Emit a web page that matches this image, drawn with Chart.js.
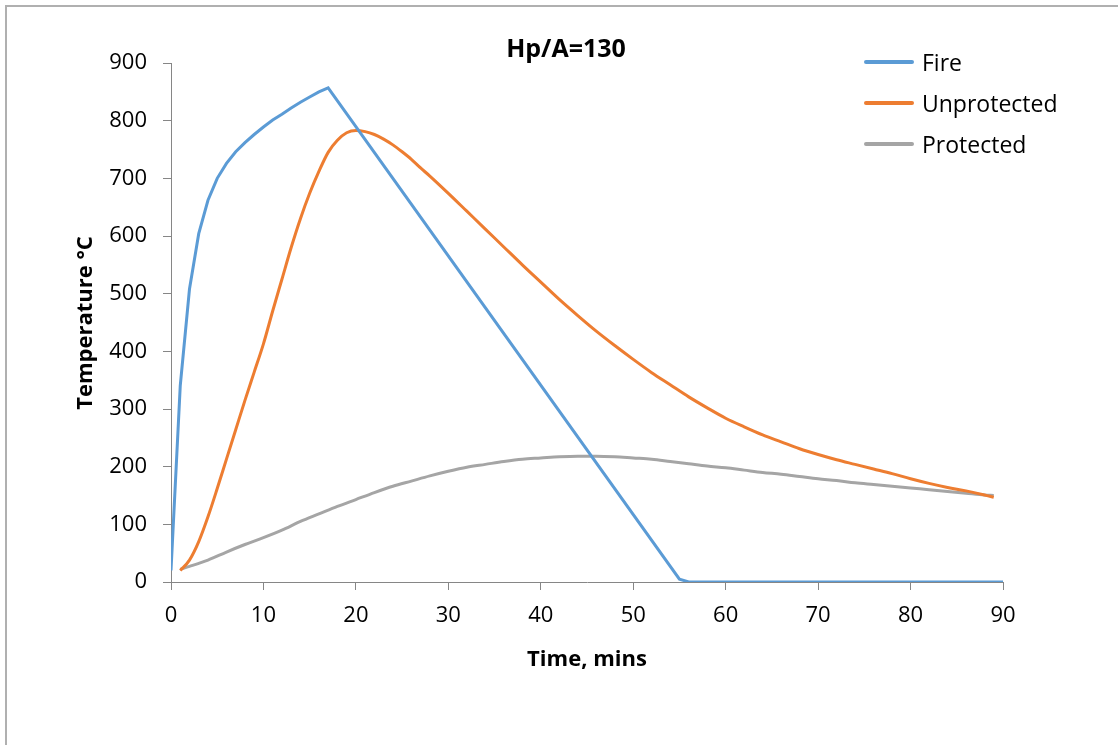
<!DOCTYPE html>
<html>
<head>
<meta charset="utf-8">
<script src="https://cdn.jsdelivr.net/npm/chart.js@4"></script>
<style>
  html, body { margin: 0; padding: 0; background: #fff; }
  #wrap { position: relative; width: 1118px; height: 745px; overflow: hidden; font-family: "Open Sans", sans-serif; }
  #frame { position: absolute; left: 5px; top: 5px; width: 1200px; height: 800px; border-left: 2px solid #b0b0b0; border-top: 2px solid #b0b0b0; box-sizing: border-box; pointer-events: none; }
  canvas { position: absolute; left: 0; top: 0; }
  .txt { position: absolute; color: #000; white-space: nowrap; }
  #title { left: 566px; top: 47px; transform: translate(-50%, -50%); font-weight: bold; font-size: 25px; }
  #xtitle { left: 587px; top: 657px; transform: translate(-50%, -50%); font-weight: bold; font-size: 22px; }
  #ytitle { left: 83px; top: 323px; transform: translate(-50%, -50%) rotate(-90deg); font-weight: bold; font-size: 22px; }
  .leg { position: absolute; left: 864px; height: 30px; display: flex; align-items: center; font-size: 23px; }
  .leg .sw { width: 50px; height: 4px; border-radius: 2px; margin-right: 8px; }
</style>
</head>
<body>
<div id="wrap">
  <canvas id="c" width="1118" height="745"></canvas>
  <div id="frame"></div>
  <div class="txt" id="title">Hp/A=130</div>
  <div class="txt" id="xtitle">Time, mins</div>
  <div class="txt" id="ytitle">Temperature °C</div>
  <div id="legend"></div>
</div>
<script>
const seriesNames = ["Fire", "Unprotected", "Protected"];
const seriesColors = ["#5B9BD5", "#ED7D31", "#A5A5A5"];

const fireTime = [0,1,2,3,4,5,6,7,8,9,10,11,12,13,14,15,16,17,55,56,90];
const fireTemp = [20,340,508,604,662,700,726,746,762,776,789,801,811,822,832,841,850,857,5,0,0];

const unprotTime = [1,2,3,4,5,6,7,8,9,10,11,12,13,14,15,16,17,18,19,20,21,22,23,24,25,26,27,28,30,32,34,36,38,40,42,44,46,48,50,52,54,56,58,60,62,64,66,68,70,72,74,76,78,80,82,84,86,88,89];
const unprotTemp = [20,38,70,113,162,213,264,315,364,413,470,525,580,630,674,712,745,766,779,783,781,776,768,758,746,733,718,704,674,643,612,581,550,520,490,462,435,410,386,363,342,321,302,284,269,255,243,231,221,212,204,196,188,179,171,164,158,151,147];

const protTime = [1,2,4,6,8,10,12,14,16,18,20,22,24,26,28,30,32,34,36,38,40,42,44,46,48,50,52,54,56,58,60,62,64,66,68,70,72,74,76,78,80,82,84,86,88,89];
const protTemp = [22,27,38,52,65,77,90,105,118,131,143,155,166,175,184,192,199,204,209,213,215,217,218,218,217,215,213,209,205,201,198,194,190,187,183,179,176,172,169,166,163,160,157,154,151,150];

const xTicks = [0,10,20,30,40,50,60,70,80,90];
const yTicks = [0,100,200,300,400,500,600,700,800,900];

function pts(xs, ys) { return xs.map((x, i) => ({ x: x, y: ys[i] })); }

// legend
const legend = document.getElementById('legend');
const legTops = [47, 88, 129];
seriesNames.forEach((n, i) => {
  const d = document.createElement('div');
  d.className = 'leg';
  d.style.top = legTops[i] + 'px';
  d.innerHTML = '<div class="sw" style="background:' + seriesColors[i] + '"></div><span>' + n + '</span>';
  legend.appendChild(d);
});

const axisColor = '#868686';
new Chart(document.getElementById('c'), {
  type: 'line',
  data: {
    datasets: [
      { label: seriesNames[0], data: pts(fireTime, fireTemp), borderColor: seriesColors[0], borderWidth: 3, pointRadius: 0, tension: 0 },
      { label: seriesNames[1], data: pts(unprotTime, unprotTemp), borderColor: seriesColors[1], borderWidth: 3, pointRadius: 0, cubicInterpolationMode: 'monotone' },
      { label: seriesNames[2], data: pts(protTime, protTemp), borderColor: seriesColors[2], borderWidth: 3, pointRadius: 0, cubicInterpolationMode: 'monotone' }
    ]
  },
  options: {
    responsive: false,
    animation: false,
    layout: { padding: { left: 0, right: 115, top: 63, bottom: 0 } },
    plugins: { legend: { display: false }, title: { display: false }, tooltip: { enabled: false } },
    scales: {
      x: {
        type: 'linear', min: 0, max: 90,
        afterBuildTicks: (s) => { s.ticks = xTicks.map(v => ({ value: v })); },
        afterFit: (s) => { s.height = 163; },
        grid: { drawOnChartArea: false, drawTicks: true, tickLength: 8, color: axisColor, lineWidth: 1 },
        border: { display: true, color: axisColor, width: 1 },
        ticks: { color: '#000', font: { family: 'Open Sans', size: 22 }, padding: 13, maxRotation: 0 }
      },
      y: {
        type: 'linear', min: 0, max: 900,
        afterBuildTicks: (s) => { s.ticks = yTicks.map(v => ({ value: v })); },
        afterFit: (s) => { s.width = 171; },
        grid: { drawOnChartArea: false, drawTicks: true, tickLength: 8, color: axisColor, lineWidth: 1 },
        border: { display: true, color: axisColor, width: 1 },
        ticks: { color: '#000', font: { family: 'Open Sans', size: 22 }, padding: 16 }
      }
    }
  }
});
</script>
</body>
</html>
